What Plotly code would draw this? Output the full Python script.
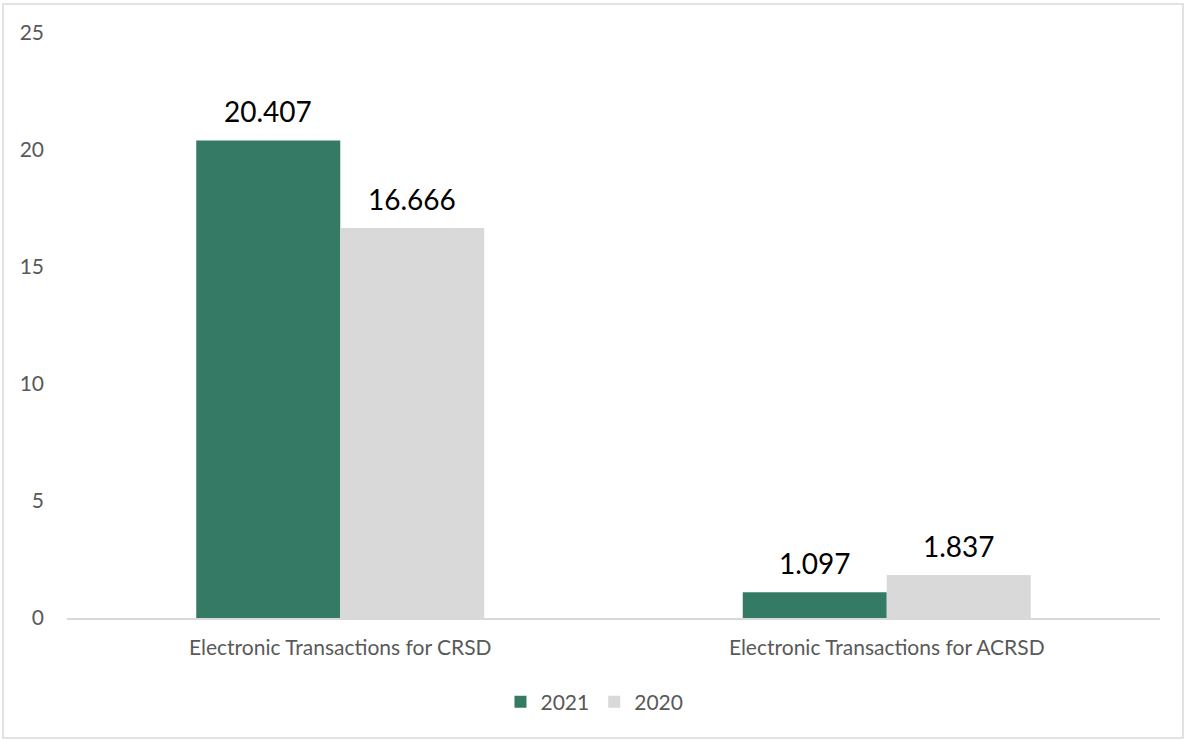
import plotly.graph_objects as go

categories = ["Electronic Transactions for CRSD", "Electronic Transactions for ACRSD"]
series_names = ["2021", "2020"]
values_2021 = [20.407, 1.097]
values_2020 = [16.666, 1.837]
y_ticks = [0, 5, 10, 15, 20, 25]

colors = {"2021": "#347a65", "2020": "#d9d9d9"}
font_family = "Lato, 'Open Sans', 'Liberation Sans', sans-serif"

W, H = 1186, 740
m_l, m_r, m_t, m_b = 67, 26, 33, 122
plot_w = W - m_l - m_r
plot_h = H - m_t - m_b

fig = go.Figure()
series = [("2021", values_2021), ("2020", values_2020)]
for name, vals in series:
    fig.add_trace(go.Bar(
        x=categories, y=vals, name=name,
        marker=dict(color=colors[name], line=dict(width=0)),
    ))

# value labels above each bar
group_frac = 1 - 0.473
bar_px = plot_w / len(categories) * group_frac / len(series)
for i, (name, vals) in enumerate(series):
    offset = (i - (len(series) - 1) / 2) * bar_px
    for cat, v in zip(categories, vals):
        fig.add_annotation(
            x=cat, y=v, text=f"{v:.3f}", showarrow=False,
            xshift=offset, yshift=10, yanchor="bottom",
            font=dict(size=28, color="#000000", family=font_family),
        )

# chart border
def px_to_paper_x(px):
    return (px - m_l) / plot_w

def px_to_paper_y(py):
    return (H - m_b - py) / plot_h

fig.add_shape(
    type="rect", xref="paper", yref="paper",
    x0=px_to_paper_x(3), x1=px_to_paper_x(1183),
    y0=px_to_paper_y(738), y1=px_to_paper_y(4),
    line=dict(color="#d9d9d9", width=1.5), fillcolor="rgba(0,0,0,0)",
    layer="below",
)

fig.update_layout(
    width=W, height=H,
    margin=dict(l=m_l, r=m_r, t=m_t, b=m_b),
    paper_bgcolor="white", plot_bgcolor="white",
    barmode="group", bargap=0.473, bargroupgap=0,
    font=dict(family=font_family, color="#595959", size=21),
    showlegend=True,
    legend=dict(
        orientation="h", x=0.4826, xanchor="center",
        y=px_to_paper_y(702), yanchor="middle",
        font=dict(size=21, color="#595959"),
        itemwidth=30, traceorder="normal",
    ),
    xaxis=dict(
        showgrid=False, showline=True, linecolor="#d9d9d9", linewidth=2,
        ticks="", tickfont=dict(size=21, color="#595959"),
        ticklabelstandoff=10,
    ),
    yaxis=dict(
        range=[0, 25], tickvals=y_ticks, showgrid=False, zeroline=False,
        showline=False, ticks="", tickfont=dict(size=21, color="#595959"),
        ticklabelstandoff=22,
    ),
)

fig.write_html("out.html")
